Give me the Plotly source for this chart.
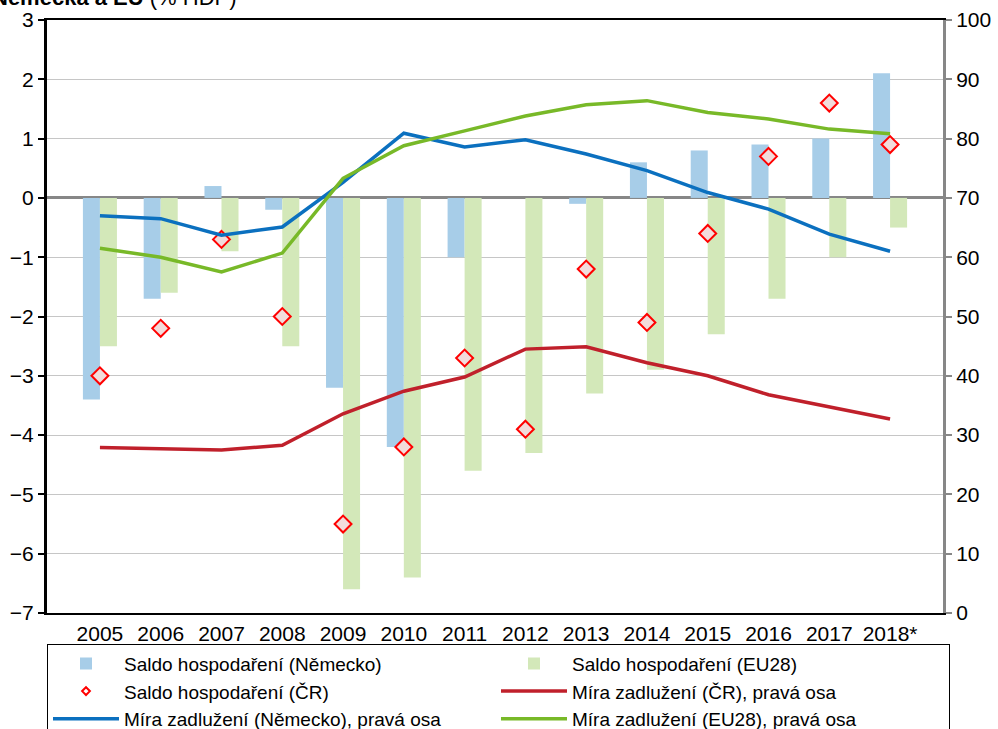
import plotly.graph_objects as go

BLUE_BAR = '#A7CDE8'
GREEN_BAR = '#D3E8B9'
BLUE_LINE = '#0B70BF'
GREEN_LINE = '#78B928'
RED_LINE = '#C0202B'
DIAMOND_FILL = '#F2DCDB'
DIAMOND_EDGE = '#FF0000'
GRID = '#C6C6C6'
GREY_AXIS = '#878787'
FONT = 'Liberation Sans, Arial, sans-serif'

years = ['2005', '2006', '2007', '2008', '2009', '2010', '2011',
         '2012', '2013', '2014', '2015', '2016', '2017', '2018*']

# saldo hospodareni, % HDP (left axis)
saldo_de = [-3.4, -1.7, 0.2, -0.2, -3.2, -4.2, -1.0, 0.0, -0.1, 0.6, 0.8, 0.9, 1.0, 2.1]
saldo_eu = [-2.5, -1.6, -0.9, -2.5, -6.6, -6.4, -4.6, -4.3, -3.3, -2.9, -2.3, -1.7, -1.0, -0.5]
saldo_cr = [-3.0, -2.2, -0.7, -2.0, -5.5, -4.2, -2.7, -3.9, -1.2, -2.1, -0.6, 0.7, 1.6, 0.9]

# mira zadluzeni, % HDP (right axis)
dluh_cr = [27.9, 27.7, 27.5, 28.3, 33.6, 37.4, 39.8, 44.5, 44.9, 42.2, 40.0, 36.8, 34.7, 32.7]
dluh_de = [67.0, 66.5, 63.7, 65.1, 72.6, 80.9, 78.6, 79.8, 77.4, 74.6, 70.9, 68.1, 63.9, 61.0]
dluh_eu = [61.5, 60.0, 57.5, 60.7, 73.3, 78.8, 81.3, 83.8, 85.7, 86.4, 84.4, 83.3, 81.6, 80.8]

fig = go.Figure()

fig.add_trace(go.Bar(x=years, y=saldo_de, name='Saldo hospodaření (Německo)',
                     marker=dict(color=BLUE_BAR, line=dict(width=0))))
fig.add_trace(go.Bar(x=years, y=saldo_eu, name='Saldo hospodaření (EU28)',
                     marker=dict(color=GREEN_BAR, line=dict(width=0))))
# diamonds drawn without legend; a small proxy below carries the legend entry
fig.add_trace(go.Scatter(x=years, y=saldo_cr, name='Saldo hospodaření (ČR)', mode='markers',
                         showlegend=False,
                         marker=dict(symbol='diamond', size=13, color=DIAMOND_FILL,
                                     line=dict(color=DIAMOND_EDGE, width=2))))
fig.add_trace(go.Scatter(x=[None], y=[None], name='Saldo hospodaření (ČR)', mode='markers',
                         marker=dict(symbol='diamond', size=6, color='white',
                                     line=dict(color=DIAMOND_EDGE, width=2))))
fig.add_trace(go.Scatter(x=years, y=dluh_cr, name='Míra zadlužení (ČR), pravá osa',
                         mode='lines', yaxis='y2', line=dict(color=RED_LINE, width=3.5)))
fig.add_trace(go.Scatter(x=years, y=dluh_de, name='Míra zadlužení (Německo), pravá osa',
                         mode='lines', yaxis='y2', line=dict(color=BLUE_LINE, width=3.5)))
fig.add_trace(go.Scatter(x=years, y=dluh_eu, name='Míra zadlužení (EU28), pravá osa',
                         mode='lines', yaxis='y2', line=dict(color=GREEN_LINE, width=3.5)))

fig.update_layout(
    width=998, height=729,
    margin=dict(l=47, r=55, t=20, b=116, autoexpand=False),
    paper_bgcolor='white', plot_bgcolor='white',
    font=dict(family=FONT, size=21, color='black'),
    barmode='group', bargap=0.44, bargroupgap=0,
    showlegend=True,
    legend=dict(
        orientation='h', x=0, xanchor='left', y=-0.0515, yanchor='top',
        entrywidth=0.5, entrywidthmode='fraction', itemwidth=66,
        bordercolor='black', borderwidth=1, bgcolor='white',
        font=dict(family=FONT, size=19), tracegroupgap=0,
    ),
    xaxis=dict(
        type='category', showgrid=False, zeroline=False,
        showline=True, linecolor='black', linewidth=2, mirror=True,
        ticks='outside', ticklen=1, tickcolor='rgba(0,0,0,0)',
        tickfont=dict(size=21),
    ),
    # category axis drawn at zero, like Excel
    xaxis2=dict(
        overlaying='x', anchor='free', position=0.7, type='linear',
        range=[-0.5, 13.5], tickvals=[i - 0.5 for i in range(15)],
        showticklabels=False, showgrid=False, zeroline=False,
        showline=True, linecolor=GREY_AXIS, linewidth=2.5,
        ticks='outside', ticklen=5, tickcolor=GREY_AXIS, tickwidth=1.5,
    ),
    yaxis=dict(
        range=[-7, 3], dtick=1, showgrid=True, gridcolor=GRID, gridwidth=1,
        zeroline=True, zerolinecolor=GREY_AXIS, zerolinewidth=2.5,
        showline=True, linecolor='black', linewidth=3,
        ticks='outside', ticklen=6, tickcolor='black', tickwidth=1.5,
        tickfont=dict(size=21),
    ),
    yaxis2=dict(
        overlaying='y', side='right', range=[0, 100], dtick=10,
        showgrid=False, zeroline=False, showline=True,
        linecolor=GREY_AXIS, linewidth=3,
        ticks='outside', ticklen=6, tickcolor=GREY_AXIS, tickwidth=1.5,
        tickfont=dict(size=21),
    ),
)

fig.add_annotation(
    text='<b>Německa a EU</b> (% HDP)', xref='paper', yref='paper',
    x=-0.064, y=1.014, xanchor='left', yanchor='bottom', showarrow=False,
    font=dict(family=FONT, size=22, color='black'),
)

fig.write_html('out.html', config={'displayModeBar': False},
               post_script="document.body.style.margin='0';")
